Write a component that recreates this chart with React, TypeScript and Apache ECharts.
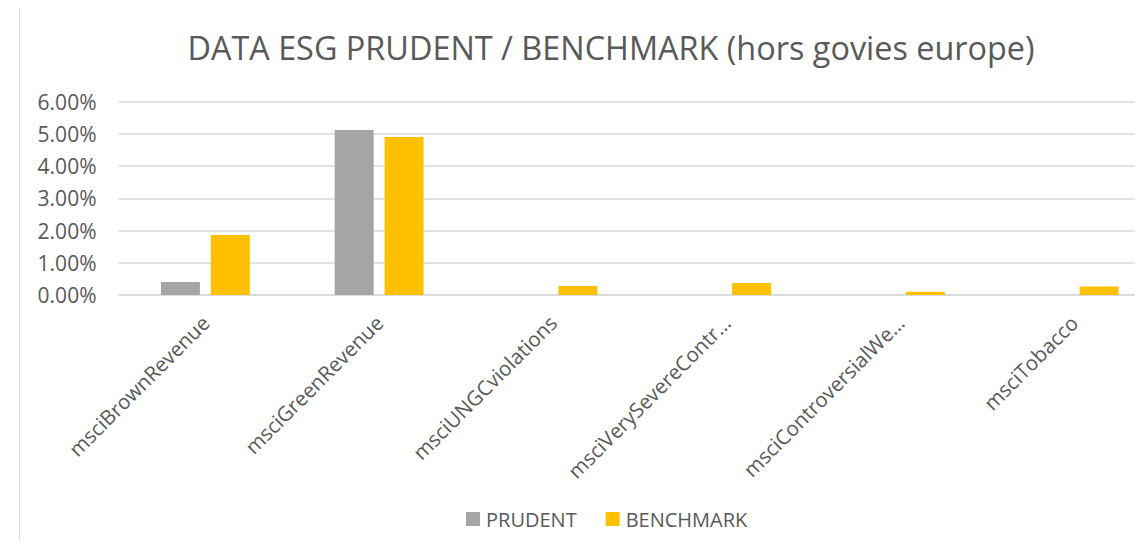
import React, { useEffect, useRef } from "react";
import * as echarts from "echarts";

const categories = [
  "msciBrownRevenue",
  "msciGreenRevenue",
  "msciUNGCviolations",
  "msciVerySevereContr…",
  "msciControversialWe…",
  "msciTobacco",
];
const prudent = [0.4, 5.12, 0, 0, 0, 0];
const benchmark = [1.86, 4.9, 0.28, 0.37, 0.1, 0.26];
const yTicks = [0, 1, 2, 3, 4, 5, 6];

export default function App() {
  const ref = useRef<HTMLDivElement>(null);
  useEffect(() => {
    if (!ref.current) return;
    const chart = echarts.init(ref.current, null, { renderer: "svg" });
    const font = "Open Sans";
    chart.setOption({
      animation: false,
      backgroundColor: "#ffffff",
      title: {
        text: "DATA ESG PRUDENT / BENCHMARK (hors govies europe)",
        left: 606,
        top: 26,
        textAlign: "center",
        textStyle: { fontFamily: font, fontSize: 32.4, fontWeight: "normal", color: "#595959" },
      },
      graphic: [
        {
          type: "line",
          shape: { x1: 19.5, y1: 0, x2: 19.5, y2: 548 },
          style: { stroke: "#d9d9d9", lineWidth: 1 },
        },
      ],
      legend: {
        top: 504,
        left: 461,
        itemWidth: 14,
        itemHeight: 14,
        itemGap: 29,
        icon: "rect",
        textStyle: { fontFamily: font, fontSize: 20, color: "#595959", padding: [0, 0, 0, 1] },
        data: ["PRUDENT", "BENCHMARK"],
      },
      grid: {
        left: 118.5,
        right: -18,
        top: 101.5,
        bottom: 253,
        containLabel: false,
        outerBoundsMode: "none",
      },
      xAxis: {
        type: "category",
        data: categories,
        axisLine: { lineStyle: { color: "#d9d9d9", width: 1.5 } },
        axisTick: { show: false },
        axisLabel: {
          rotate: 45,
          interval: 0,
          fontFamily: font,
          fontSize: 20.5,
          color: "#595959",
          margin: 24,
        },
      },
      yAxis: {
        type: "value",
        min: 0,
        max: 6,
        interval: 1,
        axisLine: { show: false },
        axisTick: { show: false },
        splitLine: { lineStyle: { color: "#d9d9d9", width: 1.5 } },
        axisLabel: {
          fontFamily: font,
          fontSize: 21,
          color: "#595959",
          margin: 22,
          formatter: (v: number) => (yTicks.includes(v) ? v.toFixed(2) + "%" : ""),
        },
      },
      series: [
        {
          name: "PRUDENT",
          type: "bar",
          data: prudent,
          barWidth: 39,
          barGap: "28%",
          itemStyle: { color: "#a5a5a5" },
        },
        {
          name: "BENCHMARK",
          type: "bar",
          data: benchmark,
          barWidth: 39,
          itemStyle: { color: "#ffc000" },
        },
      ],
    });
    return () => chart.dispose();
  }, []);
  return <div ref={ref} style={{ width: 1143, height: 548, margin: -8 }} />;
}
